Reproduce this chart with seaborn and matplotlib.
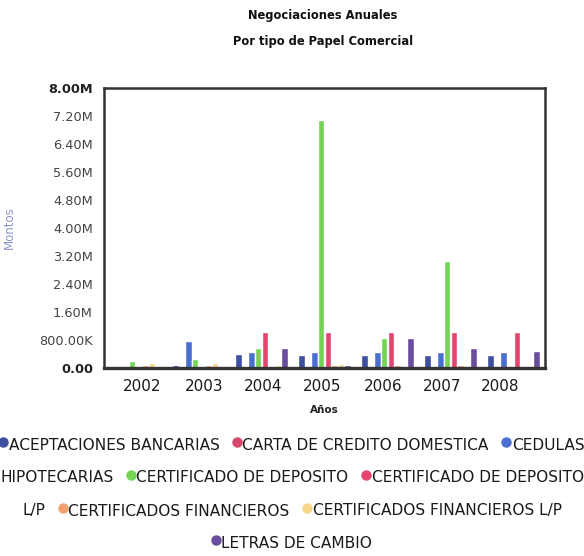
import matplotlib
matplotlib.use("Agg")
import matplotlib.pyplot as plt
from matplotlib import font_manager
from matplotlib.lines import Line2D
import seaborn as sns
import pandas as pd
import numpy as np

# ---------------- data ----------------
years = ["2002", "2003", "2004", "2005", "2006", "2007", "2008"]
series_names = [
    "ACEPTACIONES BANCARIAS",
    "CARTA DE CREDITO DOMESTICA",
    "CEDULAS HIPOTECARIAS",
    "CERTIFICADO DE DEPOSITO",
    "CERTIFICADO DE DEPOSITO L/P",
    "CERTIFICADOS FINANCIEROS",
    "CERTIFICADOS FINANCIEROS L/P",
    "LETRAS DE CAMBIO",
]
aceptaciones_bancarias = [30000, 100000, 400000, 370000, 370000, 370000, 370000]
carta_credito_domestica = [0, 0, 0, 0, 0, 0, 0]
cedulas_hipotecarias = [0, 770000, 460000, 460000, 460000, 460000, 460000]
certificado_deposito = [200000, 260000, 580000, 7100000, 860000, 3050000, 0]
certificado_deposito_lp = [0, 0, 1020000, 1020000, 1020000, 1020000, 1020000]
certificados_financieros = [100000, 100000, 40000, 100000, 80000, 80000, 0]
certificados_financieros_lp = [150000, 150000, 100000, 120000, 50000, 50000, 60000]
letras_cambio = [20000, 0, 570000, 80000, 860000, 570000, 490000]

ytick_values = [0, 800000, 1600000, 2400000, 3200000, 4000000,
                4800000, 5600000, 6400000, 7200000, 8000000]
ytick_labels = ["0.00", "800.00K", "1.60M", "2.40M", "3.20M", "4.00M",
                "4.80M", "5.60M", "6.40M", "7.20M", "8.00M"]

colors = ["#3d4f9f", "#d9476f", "#4a6fd0", "#74d455", "#e5456c",
          "#f4a06e", "#f8d78c", "#6a4d9e"]

all_series = [aceptaciones_bancarias, carta_credito_domestica, cedulas_hipotecarias,
              certificado_deposito, certificado_deposito_lp, certificados_financieros,
              certificados_financieros_lp, letras_cambio]

rows = []
for name, vals in zip(series_names, all_series):
    for y, v in zip(years, vals):
        rows.append({"Año": y, "Monto": v, "Serie": name})
df = pd.DataFrame(rows)

# ---------------- style ----------------
sns.set_theme(style="white")
plt.rcParams["font.family"] = ["DejaVu Sans"]
fam = ["DejaVu Sans"]

W, H = 584, 556
fig = plt.figure(figsize=(W / 100, H / 100), dpi=100)
ax = fig.add_axes([104 / W, 1 - 368 / H, 441 / W, 280 / H])

sns.barplot(data=df, x="Año", y="Monto", hue="Serie", hue_order=series_names,
            order=years, palette=colors, saturation=1, width=0.84, gap=0.04,
            ax=ax, legend=False, errorbar=None)

ax.set_ylim(0, 8000000)
ax.set_yticks(ytick_values)
ax.set_yticklabels(ytick_labels)
for i, lab in enumerate(ax.get_yticklabels()):
    if i in (0, len(ytick_labels) - 1):
        lab.set_fontweight("bold")
        lab.set_color("#222222")
    else:
        lab.set_color("#444444")
    lab.set_fontsize(9.3)
ax.tick_params(axis="y", length=0, pad=8)

# tick labels in the reference sit slightly left of the bar groups
tick_shift = [0.10, 0.09, 0.02, -0.04, -0.07, -0.13, -0.21]
ax.set_xticks([i + s for i, s in enumerate(tick_shift)])
ax.set_xticklabels(years)
ax.set_xlim(-0.5, len(years) - 0.5)
ax.tick_params(axis="x", length=0, pad=8)
for lab in ax.get_xticklabels():
    lab.set_fontsize(11)
    lab.set_color("#1a1a1a")

for s in ax.spines.values():
    s.set_visible(True)
    s.set_color("#333333")
    s.set_linewidth(1.8)
ax.spines["bottom"].set_linewidth(2.4)

ax.set_xlabel("Años", fontsize=7.5, fontweight="bold", color="#222222", labelpad=8)
ax.set_ylabel("Montos", fontsize=8.5, color="#8a93cc")
ax.yaxis.set_label_coords(-0.2, 0.5)

fig.text(323 / W, 1 - 15 / H, "Negociaciones Anuales", ha="center", va="center",
         fontsize=8.3, fontweight="bold", color="#111111")
fig.text(323 / W, 1 - 41 / H, "Por tipo de Papel Comercial", ha="center", va="center",
         fontsize=8.3, fontweight="bold", color="#111111")

# ---------------- flowing legend ----------------
legend_rows = [
    [(0, "ACEPTACIONES BANCARIAS"), (1, "CARTA DE CREDITO DOMESTICA"), (2, "CEDULAS")],
    [(None, "HIPOTECARIAS"), (3, "CERTIFICADO DE DEPOSITO"), (4, "CERTIFICADO DE DEPOSITO")],
    [(None, "L/P"), (5, "CERTIFICADOS FINANCIEROS"), (6, "CERTIFICADOS FINANCIEROS L/P")],
    [(7, "LETRAS DE CAMBIO")],
]
row_y = [445, 478, 511, 543]

fig.canvas.draw()
renderer = fig.canvas.get_renderer()


def text_w(s, fs):
    t = fig.text(0, 0, s, fontsize=fs, family=fam)
    w = t.get_window_extent(renderer=renderer).width
    t.remove()
    return w


mk_w = 9
gap_w = 14


def row_width(row, fs):
    tot = 0
    for k, (idx, txt) in enumerate(row):
        if k > 0:
            tot += gap_w
        if idx is not None:
            tot += mk_w
        tot += text_w(txt, fs)
    return tot


fs0 = 10
w0 = row_width(legend_rows[1], fs0)
fs = fs0 * (582 - 2 * gap_w - 2 * mk_w) / (w0 - 2 * gap_w - 2 * mk_w)

for row, yy in zip(legend_rows, row_y):
    tot = row_width(row, fs)
    x = (W - tot) / 2
    for k, (idx, txt) in enumerate(row):
        if k > 0:
            x += gap_w
        if idx is not None:
            fig.add_artist(Line2D([(x + 3.5) / W], [1 - (yy - 3) / H], marker="o",
                                  markersize=6.5, color=colors[idx], linestyle="none",
                                  transform=fig.transFigure))
            x += mk_w
        fig.text(x / W, 1 - yy / H, txt, ha="left", va="center", fontsize=fs,
                 family=fam, color="#1a1a1a")
        x += text_w(txt, fs)

fig.savefig("out.png", dpi=100)
